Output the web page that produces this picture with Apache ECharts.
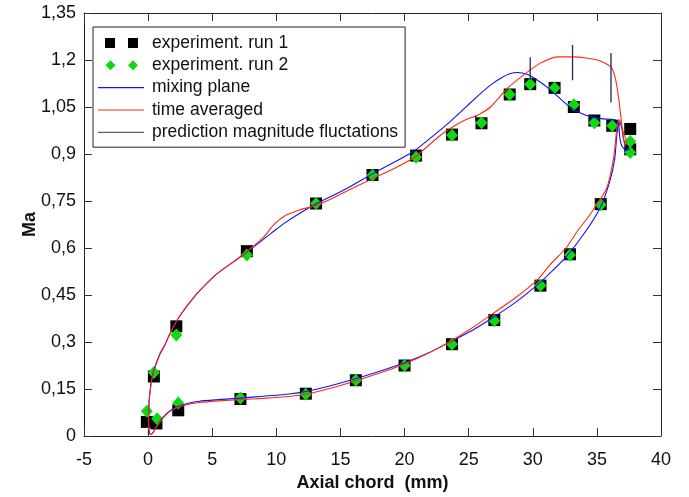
<!DOCTYPE html>
<html><head><meta charset="utf-8">
<script src="https://cdn.jsdelivr.net/npm/echarts@6/dist/echarts.min.js"></script>
<style>html,body{margin:0;padding:0;background:#fff}#c{width:689px;height:497px}</style>
</head><body><div id="c"></div>
<script>
// ---- data ----
var xTicks = [-5, 0, 5, 10, 15, 20, 25, 30, 35, 40];
var yTicks = [0, 0.15, 0.3, 0.45, 0.6, 0.75, 0.9, 1.05, 1.2, 1.35];
var run1 = [[-0.1,0.045],[0.65,0.04],[0.45,0.19],[2.2,0.35],[7.7,0.59],[13.1,0.742],[17.5,0.833],[20.9,0.895],[23.7,0.962],[26.0,0.998],[28.2,1.09],[29.8,1.123],[31.7,1.111],[33.2,1.05],[34.8,1.007],[36.2,0.99],[37.6,0.98],[37.6,0.915],[35.3,0.74],[32.9,0.58],[30.6,0.48],[27.0,0.37],[23.7,0.293],[20.0,0.225],[16.2,0.178],[12.3,0.135],[7.2,0.118],[2.35,0.082]];
var run2 = [[-0.1,0.079],[0.7,0.055],[0.45,0.203],[2.2,0.322],[7.7,0.578],[13.1,0.742],[17.5,0.832],[20.9,0.89],[23.7,0.96],[26.0,1.0],[28.2,1.09],[29.8,1.123],[31.7,1.111],[33.2,1.057],[34.8,1.0],[36.2,0.99],[37.6,0.94],[37.6,0.905],[35.3,0.738],[32.9,0.578],[30.6,0.48],[27.0,0.368],[23.7,0.293],[20.0,0.225],[16.2,0.178],[12.3,0.133],[7.2,0.121],[2.35,0.105]];
var mixingPlane = [[37.55,0.915],[37.25,0.922],[37.05,0.955],[36.9,0.99],[36.5,1.008],[35.5,1.012],[34.8,1.016],[33.75,1.03],[32.7,1.056],[31.4,1.104],[30.2,1.14],[29.5,1.155],[28.85,1.16],[28.2,1.156],[27.5,1.142],[26.7,1.12],[25.9,1.092],[25.1,1.062],[24.4,1.035],[23.6,1.005],[22.8,0.977],[20.7,0.908],[19,0.87],[17.6,0.839],[15.5,0.79],[13.15,0.742],[11.8,0.71],[10.55,0.677],[10.0,0.66],[8.95,0.626],[7.1,0.569],[5.32,0.516],[3.76,0.452],[2.46,0.382],[1.68,0.325],[1.29,0.29],[0.9,0.261],[0.37,0.198],[0.1,0.124],[0.04,0.05],[0.1,0.01],[0.25,0.005],[0.64,0.029],[1.16,0.06],[1.95,0.087],[3.0,0.103],[4.0,0.111],[5.5,0.116],[7.2,0.121],[9,0.127],[11,0.134],[12.4,0.143],[14,0.158],[16.1,0.182],[18,0.206],[20,0.234],[21.8,0.264],[23.5,0.299],[25.2,0.335],[26.9,0.378],[28.7,0.428],[30.4,0.484],[31.4,0.522],[32.6,0.572],[33.95,0.643],[35.25,0.728],[36.0,0.812],[36.4,0.887],[36.55,0.96],[36.7,1.003],[36.78,0.955],[36.95,0.925],[37.3,0.912],[37.55,0.915]];
var timeAveraged = [[37.3,0.945],[37.2,0.925],[37.05,0.955],[36.95,0.99],[36.7,1.077],[36.45,1.14],[36.1,1.178],[35.05,1.2],[33.2,1.21],[31.9,1.21],[30.6,1.19],[29.6,1.162],[28.0,1.109],[26.7,1.05],[25.7,1.024],[24.8,1.01],[23.9,0.99],[22.8,0.96],[20.7,0.887],[19,0.85],[17.6,0.823],[15.5,0.782],[14.3,0.757],[13.15,0.736],[11.85,0.722],[10.55,0.7],[9.75,0.672],[8.95,0.632],[7.1,0.569],[5.32,0.516],[3.76,0.452],[2.46,0.383],[1.68,0.325],[1.29,0.288],[0.9,0.258],[0.37,0.195],[0.1,0.12],[0.04,0.05],[0.1,0.008],[0.25,0.005],[0.64,0.028],[1.16,0.058],[1.95,0.085],[3.0,0.1],[4.0,0.107],[5.5,0.112],[7.2,0.116],[9,0.12],[11,0.126],[12.4,0.134],[14,0.15],[16.1,0.175],[18,0.2],[20,0.23],[21.8,0.263],[23.5,0.3],[25.2,0.343],[26.9,0.391],[28.7,0.443],[30.4,0.5],[31.35,0.547],[32.6,0.6],[33.5,0.655],[34.45,0.706],[35.75,0.79],[36.3,0.887],[36.55,0.98],[36.7,1.01],[36.85,1.0],[37.1,0.965],[37.3,0.945]];
// fluctuation bars: [x, yLow, yHigh]
var fluctuations = [[0.03,0.004,0.02],[25.55,1.005,1.023],[29.8,1.137,1.209],[33.1,1.135,1.248],[36.1,1.064,1.222]];

var names = ['experiment. run 1','experiment. run 2','mixing plane','time averaged','prediction magnitude fluctations'];

// bars as broken polyline (NaN y breaks the line)
var fluctLine = [];
fluctuations.forEach(function(f){ fluctLine.push([f[0], f[1]], [f[0], f[2]], [f[0], '-']); });

var chart = echarts.init(document.getElementById('c'), null, {renderer:'canvas'});
var fmtY = function(v){ return String(Math.round(v*100)/100).replace('.', ','); };
var tickStyle = {show:true, inside:true, length:8, lineStyle:{color:'#333', width:1}};
var axisLine = {show:true, onZero:false, lineStyle:{color:'#222', width:1}};
var font = 'Liberation Sans, Arial, sans-serif';
var cFluct = '#2a2060';
chart.setOption({
  animation:false,
  backgroundColor:'#fff',
  grid:{left:84, right:28, top:13, bottom:57, containLabel:false},
  legend:{
    orient:'vertical', left:93, top:27,
    padding:[7,7,6,5], itemGap:4.3, itemWidth:49, itemHeight:10,
    borderColor:'#222', borderWidth:1, backgroundColor:'#fff',
    textStyle:{fontFamily:font, fontSize:17.5, color:'#111'},
    data:[
      {name:names[0], icon:'path://M0,0M49,10M7,0h10v10h-10z M30,0h10v10h-10z'},
      {name:names[1], icon:'path://M0,0M49,10M12.5,0L17.5,5L12.5,10L7.5,5Z M35,0L40,5L35,10L30,5Z'},
      {name:names[2], icon:'path://M0,0M49,10M0,4.5h46v1.2h-46z'},
      {name:names[3], icon:'path://M0,0M49,10M0,4.5h46v1.2h-46z'},
      {name:names[4], icon:'path://M0,0M49,10M0,4.5h46v1.2h-46z'}
    ]
  },
  xAxis:[
    {type:'value', min:-5, max:40, interval:5, position:'bottom',
     axisLine:axisLine, axisTick:tickStyle, splitLine:{show:false},
     axisLabel:{fontFamily:font, fontSize:18, color:'#111', margin:15, formatter:function(v){return String(v);}},
     name:'Axial chord  (mm)', nameLocation:'middle', nameGap:38, nameMoveOverlap:false,
     nameTextStyle:{fontFamily:font, fontSize:18, fontWeight:'bold', color:'#111'}},
    {type:'value', min:-5, max:40, interval:5, position:'top',
     axisLine:axisLine, axisTick:tickStyle, splitLine:{show:false}, axisLabel:{show:false}}
  ],
  yAxis:[
    {type:'value', min:0, max:1.35, interval:0.15, position:'left',
     axisLine:axisLine, axisTick:tickStyle, splitLine:{show:false},
     axisLabel:{fontFamily:font, fontSize:18, color:'#111', margin:8, formatter:fmtY},
     name:'Ma', nameLocation:'middle', nameGap:45, nameRotate:90, nameMoveOverlap:false,
     nameTextStyle:{fontFamily:font, fontSize:18, fontWeight:'bold', color:'#111'}},
    {type:'value', min:0, max:1.35, interval:0.15, position:'right',
     axisLine:axisLine, axisTick:tickStyle, splitLine:{show:false}, axisLabel:{show:false}}
  ],
  series:[
    {name:names[0], type:'scatter', symbol:'rect', symbolSize:12, data:run1,
     itemStyle:{color:'#000', opacity:1}, z:2},
    {name:names[1], type:'scatter', symbol:'diamond', symbolSize:[12,13], data:run2,
     itemStyle:{color:'#10d810', opacity:1}, z:3},
    {name:names[2], type:'line', data:mixingPlane, showSymbol:false, symbol:'none', smooth:0.2,
     lineStyle:{color:'#1010ff', width:1.1}, itemStyle:{color:'#1010ff'}, z:4},
    {name:names[3], type:'line', data:timeAveraged, showSymbol:false, symbol:'none', smooth:0.2,
     lineStyle:{color:'#ff2a10', width:1.1}, itemStyle:{color:'#ff2a10'}, z:5},
    {name:names[4], type:'line', data:fluctLine, showSymbol:false, symbol:'none', connectNulls:false,
     lineStyle:{color:cFluct, width:1.3}, itemStyle:{color:'#5a5a80'}, z:6}
  ]
});
</script></body></html>
